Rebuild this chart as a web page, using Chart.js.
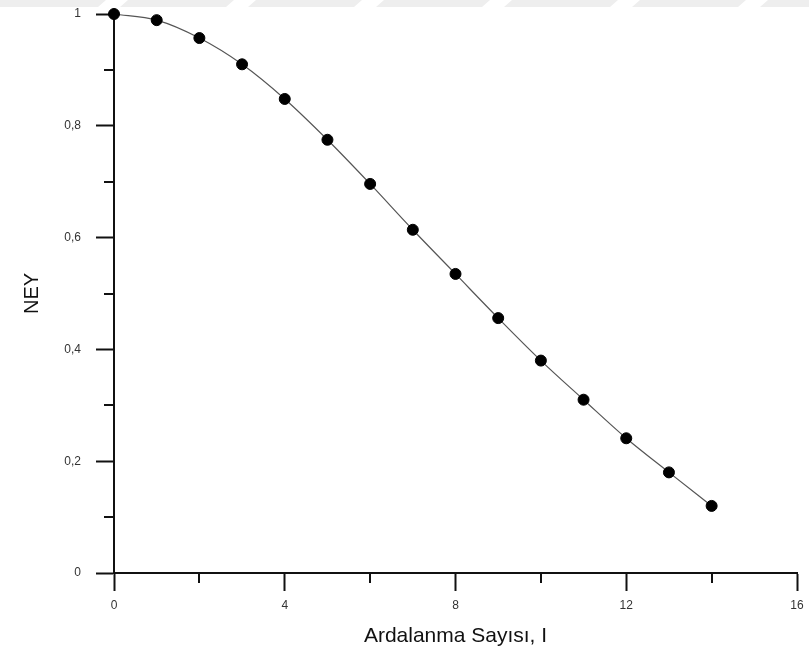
<!DOCTYPE html>
<html>
<head>
<meta charset="utf-8">
<script src="https://cdn.jsdelivr.net/npm/chart.js@4/dist/chart.umd.min.js"></script>
<style>
  html, body { margin: 0; padding: 0; background: #fff; }
  #wrap { width: 809px; height: 655px; }
</style>
</head>
<body>
<div id="wrap"><canvas id="c" width="809" height="655"></canvas></div>
<script>
// Ardalanma sayısı (I) and the NEY value at each step
const ardalanma = [0, 1, 2, 3, 4, 5, 6, 7, 8, 9, 10, 11, 12, 13, 14];
const ney = [1.0, 0.989, 0.957, 0.910, 0.848, 0.775, 0.696, 0.614, 0.535, 0.456, 0.380, 0.310, 0.241, 0.180, 0.120];

// axis ranges and tick steps
const xMajorTicks = [0, 4, 8, 12, 16];
const xMinorTicks = [2, 6, 10, 14];
const yMajorTicks = [0, 0.2, 0.4, 0.6, 0.8, 1];
const yMinorTicks = [0.1, 0.3, 0.5, 0.7, 0.9];

const points = ardalanma.map((x, i) => ({ x: x, y: ney[i] }));
const FONT = '"Liberation Sans", Arial, sans-serif';
const AXIS = '#111111';

// short minor tick marks on both axes
const minorTicks = {
  id: 'minorTicks',
  afterDraw(chart) {
    const ctx = chart.ctx;
    const xs = chart.scales.x, ys = chart.scales.y;
    const area = chart.chartArea;
    ctx.save();
    ctx.strokeStyle = AXIS;
    ctx.lineWidth = 2;
    ctx.beginPath();
    xMinorTicks.forEach(v => {
      const px = Math.round(xs.getPixelForValue(v));
      ctx.moveTo(px, area.bottom);
      ctx.lineTo(px, area.bottom + 10);
    });
    yMinorTicks.forEach(v => {
      const py = Math.round(ys.getPixelForValue(v));
      ctx.moveTo(area.left, py);
      ctx.lineTo(area.left - 10, py);
    });
    ctx.stroke();
    ctx.restore();
  }
};

// faint grey band with slanted breaks along the top edge
const topBand = {
  id: 'topBand',
  beforeDraw(chart) {
    const ctx = chart.ctx;
    ctx.save();
    ctx.fillStyle = '#eeeeee';
    const h = 7, period = 128, gap = 22, slant = 8;
    for (let s = -period; s < chart.width + period; s += period) {
      ctx.beginPath();
      ctx.moveTo(s, 0);
      ctx.lineTo(s + period - gap, 0);
      ctx.lineTo(s + period - gap - slant, h);
      ctx.lineTo(s - slant, h);
      ctx.closePath();
      ctx.fill();
    }
    ctx.restore();
  }
};

new Chart(document.getElementById('c'), {
  type: 'scatter',
  data: {
    datasets: [{
      data: points,
      showLine: true,
      borderColor: '#555555',
      borderWidth: 1.2,
      tension: 0.4,
      cubicInterpolationMode: 'monotone',
      pointRadius: 5.5,
      pointHoverRadius: 5.5,
      pointBackgroundColor: '#000000',
      pointBorderColor: '#000000',
      pointBorderWidth: 1,
      clip: false
    }]
  },
  options: {
    responsive: false,
    animation: false,
    events: [],
    layout: { padding: { top: 14, right: 12, left: 0, bottom: 0 } },
    plugins: { legend: { display: false }, tooltip: { enabled: false } },
    scales: {
      x: {
        type: 'linear',
        min: xMajorTicks[0],
        max: xMajorTicks[xMajorTicks.length - 1],
        afterBuildTicks(scale) { scale.ticks = xMajorTicks.map(v => ({ value: v })); },
        afterFit(scale) {
          scale.height = 82;
          scale.paddingLeft = 0;
          scale.paddingRight = 0;
        },
        ticks: {
          font: { family: FONT, size: 12 },
          color: '#333333',
          padding: 7,
          maxRotation: 0,
          callback: v => String(v)
        },
        grid: {
          drawOnChartArea: false,
          drawTicks: true,
          tickLength: 18,
          tickColor: AXIS,
          tickWidth: 2
        },
        border: { display: true, color: AXIS, width: 2 },
        title: {
          display: true,
          text: 'Ardalanma Sayısı, I',
          font: { family: FONT, size: 21 },
          color: '#111111',
          padding: { top: 0, bottom: 6 }
        }
      },
      y: {
        type: 'linear',
        min: yMajorTicks[0],
        max: yMajorTicks[yMajorTicks.length - 1],
        afterBuildTicks(scale) { scale.ticks = yMajorTicks.map(v => ({ value: v })); },
        afterFit(scale) {
          scale.width = 114;
          scale.paddingTop = 0;
          scale.paddingBottom = 0;
        },
        ticks: {
          font: { family: FONT, size: 12 },
          color: '#333333',
          padding: 15,
          callback: v => (Number.isInteger(v) ? String(v) : v.toFixed(1).replace('.', ','))
        },
        grid: {
          drawOnChartArea: false,
          drawTicks: true,
          tickLength: 18,
          tickColor: AXIS,
          tickWidth: 2
        },
        border: { display: true, color: AXIS, width: 2 },
        title: {
          display: true,
          text: 'NEY',
          font: { family: FONT, size: 20 },
          color: '#111111',
          padding: { top: 20, bottom: 0 }
        }
      }
    }
  },
  plugins: [topBand, minorTicks]
});
</script>
</body>
</html>
